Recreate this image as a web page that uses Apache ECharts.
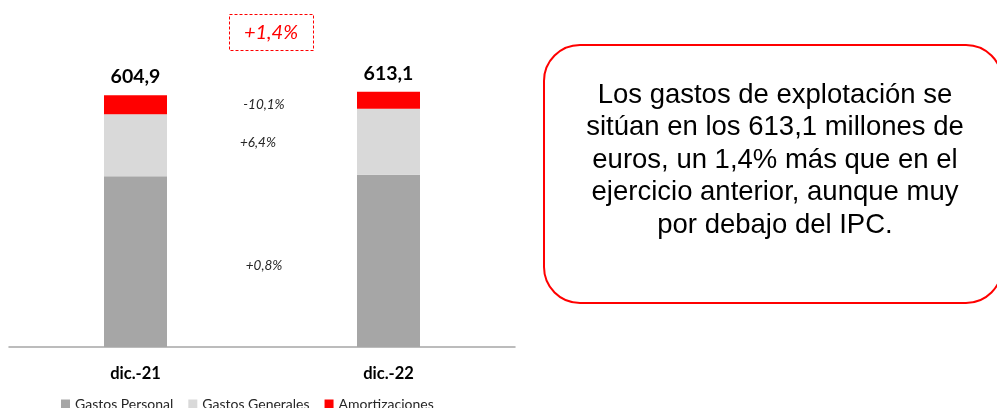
<!DOCTYPE html>
<html>
<head>
<meta charset="utf-8">
<script src="https://cdn.jsdelivr.net/npm/echarts@6/dist/echarts.min.js"></script>
<style>
  html, body { margin: 0; padding: 0; background: #fff; }
  #main { width: 997px; height: 408px; }
</style>
</head>
<body>
<div id="main"></div>
<script>
// datos (millones de euros)
var categorias = ['dic.-21', 'dic.-22'];
var gastosPersonal = [410.5, 413.8];
var gastosGenerales = [148.8, 158.3];
var amortizaciones = [45.6, 41.0];
var variaciones = ['+0,8%', '+6,4%', '-10,1%'];
var variacionTotal = '+1,4%';
var nota = 'Los gastos de explotación se\nsitúan en los 613,1 millones de\neuros, un 1,4% más que en el\nejercicio anterior, aunque muy\npor debajo del IPC.';

var fuente = 'Lato, "Open Sans", sans-serif';

function fmt(v) {
  return v.toFixed(1).replace('.', ',');
}

var chart = echarts.init(document.getElementById('main'), null, { renderer: 'canvas' });

chart.setOption({
  animation: false,
  textStyle: { fontFamily: fuente },
  grid: { left: 9, width: 506, top: 14, bottom: 61 },
  legend: {
    left: 56,
    bottom: -8,
    icon: 'rect',
    itemWidth: 9,
    itemHeight: 9,
    itemGap: 15,
    textStyle: { fontSize: 14, color: '#262626', fontFamily: fuente },
    data: ['Gastos Personal', 'Gastos Generales', 'Amortizaciones']
  },
  xAxis: {
    type: 'category',
    data: categorias,
    axisLine: { lineStyle: { color: '#a6a6a6', width: 1.5 } },
    axisTick: { show: false },
    axisLabel: { fontSize: 16.5, fontWeight: 'bold', color: '#000', margin: 18 }
  },
  yAxis: {
    type: 'value',
    min: 0,
    max: 800,
    show: false
  },
  series: [
    {
      name: 'Gastos Personal',
      type: 'bar',
      stack: 'total',
      barWidth: 63,
      itemStyle: { color: '#a6a6a6' },
      data: gastosPersonal
    },
    {
      name: 'Gastos Generales',
      type: 'bar',
      stack: 'total',
      itemStyle: { color: '#d9d9d9' },
      data: gastosGenerales
    },
    {
      name: 'Amortizaciones',
      type: 'bar',
      stack: 'total',
      itemStyle: { color: '#ff0000' },
      label: {
        show: true,
        position: 'top',
        distance: 8,
        fontSize: 19.5,
        fontWeight: 'bold',
        color: '#000',
        formatter: function (p) {
          var i = p.dataIndex;
          return fmt(gastosPersonal[i] + gastosGenerales[i] + amortizaciones[i]);
        }
      },
      data: amortizaciones
    }
  ],
  graphic: [
    // recuadro variación total
    {
      type: 'rect',
      shape: { x: 229.5, y: 14.5, width: 84, height: 36 },
      style: { fill: 'none', stroke: '#ff0000', lineWidth: 1, lineDash: [3, 2] }
    },
    {
      type: 'text',
      x: 271, y: 33,
      style: {
        text: variacionTotal, fill: '#ff0000', fontSize: 20, fontStyle: 'italic',
        fontFamily: fuente, align: 'center', verticalAlign: 'middle'
      }
    },
    // variaciones por partida
    {
      type: 'text', x: 264, y: 266,
      style: { text: variaciones[0], fill: '#262626', fontSize: 13.5, fontStyle: 'italic', fontFamily: fuente, align: 'center', verticalAlign: 'middle' }
    },
    {
      type: 'text', x: 258, y: 143,
      style: { text: variaciones[1], fill: '#262626', fontSize: 13.5, fontStyle: 'italic', fontFamily: fuente, align: 'center', verticalAlign: 'middle' }
    },
    {
      type: 'text', x: 264, y: 105,
      style: { text: variaciones[2], fill: '#262626', fontSize: 13.5, fontStyle: 'italic', fontFamily: fuente, align: 'center', verticalAlign: 'middle' }
    },
    // cuadro de texto
    {
      type: 'rect',
      shape: { x: 544, y: 45, width: 458, height: 258, r: 36 },
      style: { fill: '#fff', stroke: '#ff0000', lineWidth: 2 }
    },
    {
      type: 'text',
      x: 775, y: 160,
      style: {
        text: nota, fill: '#000', fontSize: 27.5, lineHeight: 32.5,
        fontFamily: '"Liberation Sans", Arial, sans-serif',
        align: 'center', verticalAlign: 'middle'
      }
    }
  ]
});
</script>
</body>
</html>
